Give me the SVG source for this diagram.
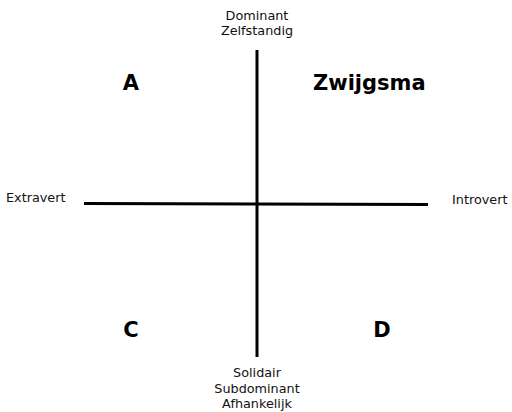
<svg xmlns="http://www.w3.org/2000/svg" width="512" height="412" viewBox="0 0 512 412">
<style>
.lbl{font-family:"DejaVu Sans",Verdana,sans-serif;font-size:12.8px;fill:#111}
.big{font-family:"DejaVu Sans",Verdana,sans-serif;font-weight:bold;font-size:21px;fill:#000}
.ax{stroke:#000;stroke-width:3;fill:none}
</style>
<rect width="512" height="412" fill="#fff"/>
<g id="connectors">
<line class="ax" x1="257" y1="50" x2="257" y2="357"/>
<line class="ax" x1="84" y1="203.5" x2="428" y2="204.5"/>
</g>
<g id="top"><text class="lbl" x="257" y="20" text-anchor="middle">Dominant</text><text class="lbl" x="257" y="35" text-anchor="middle">Zelfstandig</text></g>
<g id="A"><text class="big" x="131" y="90" text-anchor="middle">A</text></g>
<g id="zwijgsma"><text class="big" x="313" y="90">Zwijgsma</text></g>
<g id="left"><text class="lbl" x="6" y="202">Extravert</text></g>
<g id="right"><text class="lbl" x="452" y="204">Introvert</text></g>
<g id="C"><text class="big" x="131" y="337" text-anchor="middle">C</text></g>
<g id="D"><text class="big" x="382" y="337" text-anchor="middle">D</text></g>
<g id="bottom"><text class="lbl" x="257" y="377" text-anchor="middle">Solidair</text><text class="lbl" x="257" y="392.5" text-anchor="middle">Subdominant</text><text class="lbl" x="257" y="408" text-anchor="middle">Afhankelijk</text></g>
</svg>
